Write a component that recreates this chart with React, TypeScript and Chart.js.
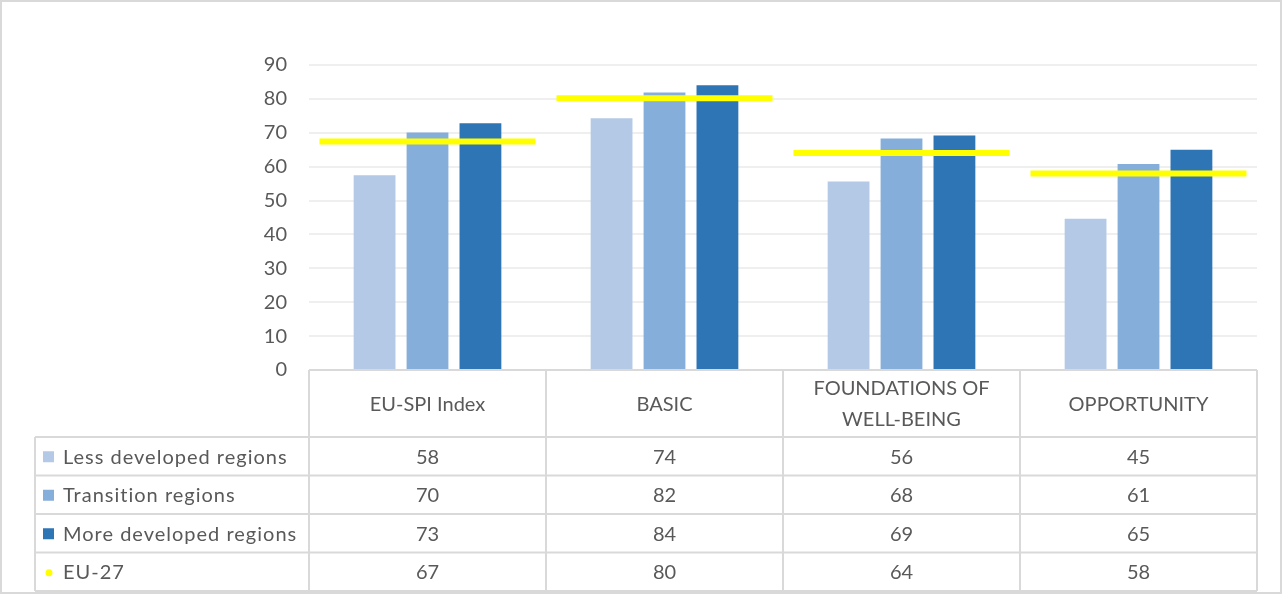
import React, { useEffect, useRef } from "react";
import { Chart, registerables } from "chart.js";

Chart.register(...registerables);

const categories: string[][] = [["EU-SPI Index"], ["BASIC"], ["FOUNDATIONS OF", "WELL-BEING"], ["OPPORTUNITY"]];
const seriesNames = ["Less developed regions", "Transition regions", "More developed regions", "EU-27"];
const lessDeveloped = [57.5, 74.3, 55.6, 44.6];
const transition = [70.1, 81.9, 68.3, 60.8];
const moreDeveloped = [72.8, 84.0, 69.2, 65.0];
const eu27 = [67.4, 80.2, 64.0, 58.0];
const yTicks = [0, 10, 20, 30, 40, 50, 60, 70, 80, 90];

const COLORS = ["#B4C9E6", "#85AEDB", "#2E75B6", "#FFFF00"];
const TEXT = "#595959";
const BORDER = "#D9D9D9";
const FONT = "Lato";

const tablePlugin = {
  id: "dataTable",
  beforeDraw(chart: any) {
    const { ctx, width, height } = chart;
    ctx.save();
    ctx.fillStyle = "#FFFFFF";
    ctx.fillRect(0, 0, width, height);
    ctx.strokeStyle = BORDER;
    ctx.lineWidth = 2;
    ctx.strokeRect(1, 1, width - 2, height - 3);
    ctx.restore();
  },
  afterDraw(chart: any) {
    const { ctx, chartArea, scales } = chart;
    const xs = scales.x;
    const n = categories.length;
    const colW = (chartArea.right - chartArea.left) / n;
    const top = chartArea.bottom;
    const headerH = 67;
    const rowH = 38.5;
    const tableLeft = 35;
    const rows = [lessDeveloped, transition, moreDeveloped, eu27];
    const tableBottom = top + headerH + rowH * rows.length;

    ctx.save();
    ctx.strokeStyle = BORDER;
    ctx.lineWidth = 2;
    ctx.beginPath();
    ctx.moveTo(chartArea.left, top);
    ctx.lineTo(chartArea.right, top);
    for (let r = 0; r <= rows.length; r++) {
      const y = top + headerH + r * rowH;
      ctx.moveTo(tableLeft, y);
      ctx.lineTo(chartArea.right, y);
    }
    for (let i = 0; i <= n; i++) {
      const x = i < n ? xs.getPixelForValue(i) - colW / 2 : xs.getPixelForValue(n - 1) + colW / 2;
      ctx.moveTo(x, top);
      ctx.lineTo(x, tableBottom);
    }
    ctx.moveTo(tableLeft, top + headerH);
    ctx.lineTo(tableLeft, tableBottom);
    ctx.stroke();

    ctx.fillStyle = TEXT;
    ctx.font = `20px ${FONT}`;
    ctx.textAlign = "center";
    ctx.textBaseline = "middle";
    categories.forEach((lines, i) => {
      const cx = xs.getPixelForValue(i);
      const cy = top + headerH / 2 + 1;
      const lh = 31;
      lines.forEach((ln, k) => {
        ctx.fillText(ln, cx, cy + (k - (lines.length - 1) / 2) * lh);
      });
    });
    rows.forEach((vals, r) => {
      const cy = top + headerH + r * rowH + rowH / 2 + 1;
      vals.forEach((v, i) => {
        ctx.fillStyle = TEXT;
        ctx.textAlign = "center";
        ctx.fillText(String(Math.round(v)), xs.getPixelForValue(i), cy);
      });
      if (r < 3) {
        ctx.fillStyle = COLORS[r];
        ctx.fillRect(tableLeft + 8, cy - 6, 11, 11);
      } else {
        ctx.fillStyle = COLORS[r];
        ctx.beginPath();
        ctx.arc(tableLeft + 14, cy, 3.5, 0, Math.PI * 2);
        ctx.fill();
      }
      ctx.fillStyle = TEXT;
      ctx.textAlign = "left";
      (ctx as any).letterSpacing = "1px";
      ctx.fillText(seriesNames[r], tableLeft + 28, cy);
      (ctx as any).letterSpacing = "0px";
    });
    ctx.restore();
  },
};

export default function App() {
  const ref = useRef<HTMLCanvasElement | null>(null);
  useEffect(() => {
    document.body.style.margin = "0";
    const canvas = ref.current!;
    const chart = new Chart(canvas, {
      type: "bar",
      data: {
        labels: categories.map((c) => c.join(" ")),
        datasets: [
          {
            type: "line",
            label: seriesNames[3],
            data: eu27,
            showLine: false,
            pointStyle: "line",
            pointRadius: 108,
            pointHoverRadius: 108,
            pointBorderWidth: 6,
            pointBorderColor: COLORS[3],
            pointBackgroundColor: COLORS[3],
            borderColor: COLORS[3],
            clip: false,
            order: 0,
          } as any,
          { label: seriesNames[0], data: lessDeveloped, backgroundColor: COLORS[0], order: 1 },
          { label: seriesNames[1], data: transition, backgroundColor: COLORS[1], order: 1 },
          { label: seriesNames[2], data: moreDeveloped, backgroundColor: COLORS[2], order: 1 },
        ],
      },
      options: {
        responsive: false,
        animation: false,
        layout: { autoPadding: false, padding: { left: 0, top: 65, right: 25, bottom: 225 } },
        plugins: { legend: { display: false }, tooltip: { enabled: false } },
        datasets: { bar: { categoryPercentage: 0.67, barPercentage: 0.79 } },
        scales: {
          x: { display: false },
          y: {
            min: 0,
            max: 90,
            afterFit: (s: any) => {
              s.width = 309;
            },
            afterBuildTicks: (s: any) => {
              s.ticks = yTicks.map((v) => ({ value: v }));
            },
            border: { display: false },
            grid: {
              color: (c: any) => (c.tick && c.tick.value === 0 ? "rgba(0,0,0,0)" : "#EFEFEF"),
              lineWidth: 2,
              drawTicks: false,
            },
            ticks: {
              padding: 22,
              color: TEXT,
              font: { family: FONT, size: 20 },
            },
          },
        },
      },
      plugins: [tablePlugin],
    });
    return () => chart.destroy();
  }, []);
  return (
    <div style={{ width: 1282, height: 595 }}>
      <canvas ref={ref} width={1282} height={595} style={{ display: "block" }} />
    </div>
  );
}
